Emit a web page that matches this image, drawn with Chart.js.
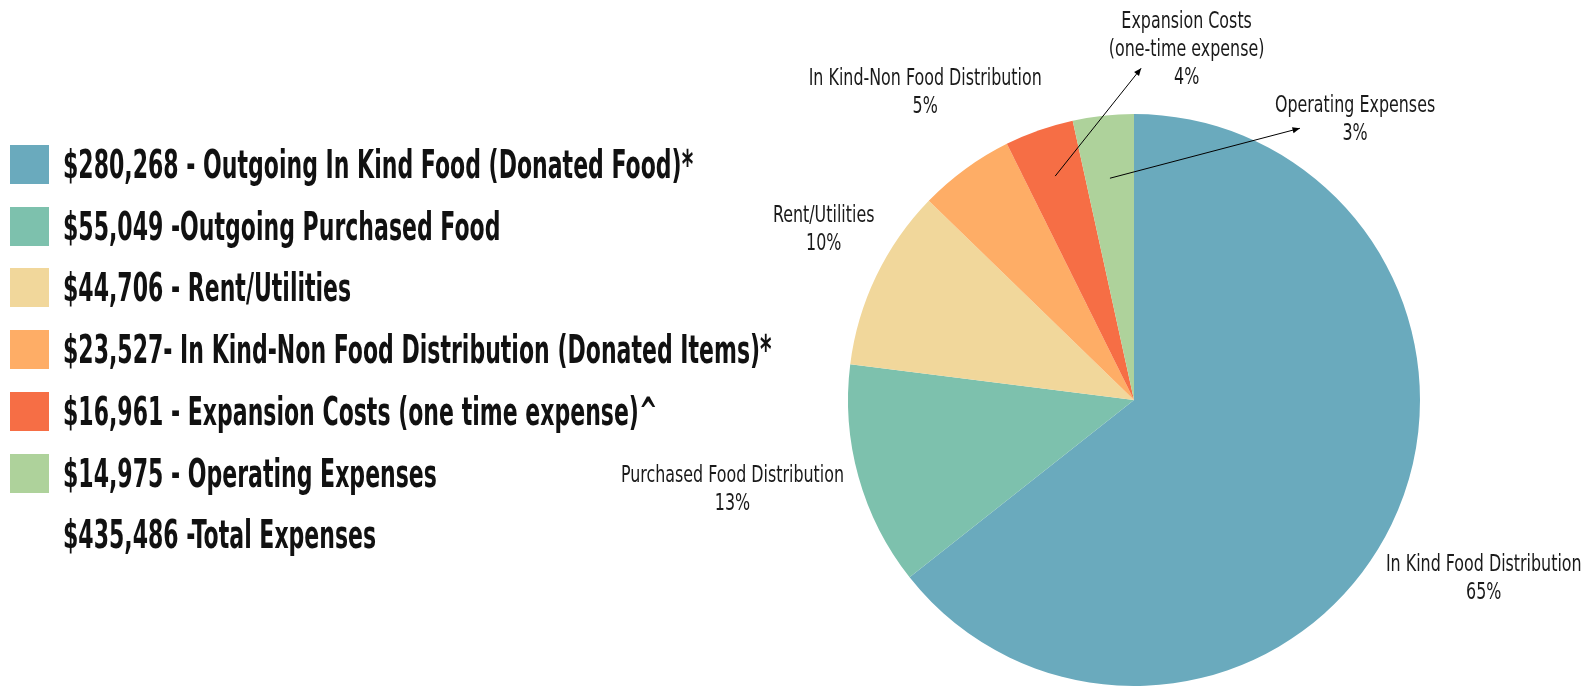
<!DOCTYPE html>
<html>
<head>
<meta charset="utf-8">
<script src="https://cdn.jsdelivr.net/npm/chart.js@4"></script>
<style>
  html, body { margin: 0; padding: 0; background: #fff; width: 1591px; height: 686px; overflow: hidden; }
  #wrap { position: relative; width: 1591px; height: 686px; overflow: hidden; }
  #chartBox { position: absolute; left: 0; top: 0; width: 1591px; height: 686px; }
  #legend { position: absolute; left: 10px; top: 0; font-family: "DejaVu Sans Condensed", "Liberation Sans Narrow", sans-serif; font-weight: bold; color: #111; }
  .row { position: absolute; left: 0; height: 39px; white-space: nowrap; }
  .box { position: absolute; left: 0; top: 0; width: 39px; height: 39px; }
  .txt { position: absolute; left: 53px; top: -4px; font-size: 32px; line-height: 47px; transform: scale(0.765, 1.24); transform-origin: left center; }
</style>
</head>
<body>
<div id="wrap">
  <div id="chartBox"><canvas id="pieChart"></canvas></div>
  <div id="legend"></div>
</div>
<script>
const sliceNames = [
  ['In Kind Food Distribution'],
  ['Purchased Food Distribution'],
  ['Rent/Utilities'],
  ['In Kind-Non Food Distribution'],
  ['Expansion Costs', '(one-time expense)'],
  ['Operating Expenses'],
];
const sliceValues = [280268, 55049, 44706, 23527, 16961, 14975];
const percentLabels = ['65%', '13%', '10%', '5%', '4%', '3%'];
const legendText = [
  '$280,268 - Outgoing In Kind Food (Donated Food)*',
  '$55,049 -Outgoing Purchased Food',
  '$44,706 - Rent/Utilities',
  '$23,527- In Kind-Non Food Distribution (Donated Items)*',
  '$16,961 - Expansion Costs (one time expense)^',
  '$14,975 - Operating Expenses',
];
const totalText = '$435,486 -Total Expenses';

const colors = ['#6AAABD', '#7DC1AD', '#F1D79B', '#FEAD66', '#F66E45', '#AED29B'];

// label placement, in units of the pie radius from the centre
const labelPos = [
  { x: 1.223, y: 0.628 },
  { x: -1.404, y: 0.316 },
  { x: -1.085, y: -0.592 },
  { x: -0.730, y: -1.071 },
  { x: 0.184, y: -1.223 },
  { x: 0.773, y: -0.979 },
];
// leader lines for the thin slices: start radius fraction, end point
const leaders = {
  4: { r: 0.83, end: { x: 0.025, y: -1.16 } },
  5: { r: 0.78, end: { x: 0.58, y: -0.95 } },
};

// left legend
const legend = document.getElementById('legend');
const rowTop = 145;
const rowStep = 61.7;
legendText.concat([totalText]).forEach((text, i) => {
  const row = document.createElement('div');
  row.className = 'row';
  row.style.top = `${rowTop + i * rowStep}px`;
  if (i < colors.length) {
    const box = document.createElement('div');
    box.className = 'box';
    box.style.background = colors[i];
    row.appendChild(box);
  }
  const t = document.createElement('div');
  t.className = 'txt';
  t.textContent = text;
  row.appendChild(t);
  legend.appendChild(row);
});

const sliceLabels = {
  id: 'sliceLabels',
  afterDatasetsDraw(chart) {
    const { ctx } = chart;
    const meta = chart.getDatasetMeta(0);
    ctx.save();
    meta.data.forEach((arc, i) => {
      const cx = arc.x;
      const cy = arc.y;
      const r = arc.outerRadius;
      const lines = sliceNames[i].concat([percentLabels[i]]);
      const lh = 28;
      const lx = cx + labelPos[i].x * r;
      const ly = cy + labelPos[i].y * r - ((lines.length - 1) * lh) / 2;

      if (leaders[i]) {
        const mid = (arc.startAngle + arc.endAngle) / 2;
        const sx = cx + Math.cos(mid) * r * leaders[i].r;
        const sy = cy + Math.sin(mid) * r * leaders[i].r;
        const ex = cx + leaders[i].end.x * r;
        const ey = cy + leaders[i].end.y * r;
        ctx.strokeStyle = '#000';
        ctx.lineWidth = 1;
        ctx.beginPath();
        ctx.moveTo(sx, sy);
        ctx.lineTo(ex, ey);
        ctx.stroke();
        const a = Math.atan2(ey - sy, ex - sx);
        ctx.fillStyle = '#000';
        ctx.beginPath();
        ctx.moveTo(ex, ey);
        ctx.lineTo(ex - 8 * Math.cos(a - 0.4), ey - 8 * Math.sin(a - 0.4));
        ctx.lineTo(ex - 8 * Math.cos(a + 0.4), ey - 8 * Math.sin(a + 0.4));
        ctx.closePath();
        ctx.fill();
      }

      ctx.fillStyle = '#1a1a1a';
      ctx.font = '19px "DejaVu Sans Condensed", "Liberation Sans Narrow", sans-serif';
      ctx.textAlign = 'center';
      ctx.textBaseline = 'middle';
      lines.forEach((line, j) => {
        ctx.save();
        ctx.translate(lx, ly + j * lh);
        ctx.scale(0.93, 1.17);
        ctx.fillText(line, 0, 0);
        ctx.restore();
      });
    });
    ctx.restore();
  },
};

const ctx = document.getElementById('pieChart');
const pieChart = new Chart(ctx, {
  type: 'pie',
  data: {
    labels: sliceNames.map(n => n.join(' ')),
    datasets: [{
      data: sliceValues,
      backgroundColor: colors,
      borderWidth: 0,
    }],
  },
  options: {
    responsive: true,
    maintainAspectRatio: false,
    animation: false,
    layout: { padding: { left: 848, right: 171, top: 114, bottom: 0 } },
    plugins: {
      legend: { display: false },
      tooltip: { enabled: false },
    },
  },
  plugins: [sliceLabels],
});
</script>
</body>
</html>
